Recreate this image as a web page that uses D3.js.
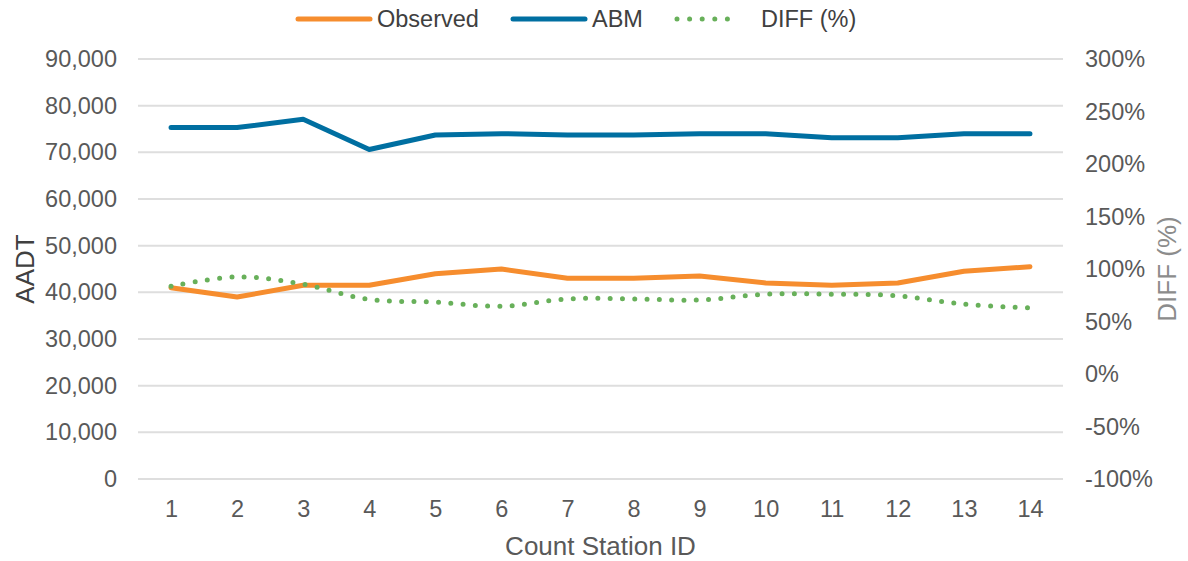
<!DOCTYPE html>
<html><head><meta charset="utf-8">
<script src="https://cdn.jsdelivr.net/npm/d3@7"></script>
<style>body{margin:0;background:#fff;} text{font-family:"Liberation Sans",Arial,sans-serif;}</style>
</head><body><svg id="c" width="1188" height="561"></svg>
<script>
const stations = [1,2,3,4,5,6,7,8,9,10,11,12,13,14];
const observed = [41000,39000,41500,41500,44000,45000,43000,43000,43500,42000,41500,42000,44500,45500];
const abm = [75300,75300,77100,70600,73700,74000,73700,73700,74000,74000,73100,73100,74000,74000];
const diffPct = [83.5,92.5,85.5,71,68.5,64.5,71.5,71.5,70.5,76,76,74.5,66.5,63];
const leftTicks = [0,10000,20000,30000,40000,50000,60000,70000,80000,90000];
const rightTicks = [-100,-50,0,50,100,150,200,250,300];

const svg = d3.select("#c");
const L=138, R=1063, T=59, B=479;
const x = d3.scalePoint().domain(stations).range([L,R]).padding(0.5);
const yL = d3.scaleLinear().domain([0,90000]).range([B,T]);
const yR = d3.scaleLinear().domain([-100,300]).range([B,T]);

// gridlines
svg.append("g").selectAll("line").data(leftTicks).join("line")
  .attr("x1",L).attr("x2",R).attr("y1",d=>yL(d)).attr("y2",d=>yL(d))
  .attr("stroke","#dedede").attr("stroke-width",2);

const fmt = d3.format(",");
const gl = svg.append("g").attr("transform",`translate(${L},0)`)
  .call(d3.axisLeft(yL).tickValues(leftTicks).tickFormat(fmt).tickSize(0).tickPadding(21));
gl.select(".domain").remove();
gl.selectAll("text").attr("font-size","23.5px").attr("fill","#595959").attr("font-family","Liberation Sans, Arial, sans-serif");

const gr = svg.append("g").attr("transform",`translate(${R},0)`)
  .call(d3.axisRight(yR).tickValues(rightTicks).tickFormat(d=>d+"%").tickSize(0).tickPadding(22));
gr.select(".domain").remove();
gr.selectAll("text").attr("font-size","23.5px").attr("fill","#595959").attr("font-family","Liberation Sans, Arial, sans-serif");

const gx = svg.append("g").attr("transform",`translate(0,${B})`)
  .call(d3.axisBottom(x).tickSize(0).tickPadding(21));
gx.select(".domain").remove();
gx.selectAll("text").attr("font-size","23.5px").attr("fill","#595959").attr("font-family","Liberation Sans, Arial, sans-serif");

// axis titles
svg.append("text").attr("x",(L+R)/2).attr("y",555).attr("text-anchor","middle")
  .attr("font-size","26px").attr("fill","#595959").text("Count Station ID");
svg.append("text").attr("transform",`translate(34,${(T+B)/2}) rotate(-90)`).attr("text-anchor","middle")
  .attr("font-size","26px").attr("fill","#404040").text("AADT");
svg.append("text").attr("transform",`translate(1176,${(T+B)/2}) rotate(-90)`).attr("text-anchor","middle")
  .attr("font-size","26px").attr("fill","#8c8c8c").text("DIFF (%)");

// lines
const lineL = d3.line().x((d,i)=>x(stations[i])).y(d=>yL(d));
const lineR = d3.line().x((d,i)=>x(stations[i])).y(d=>yR(d)).curve(d3.curveCatmullRom.alpha(0.5));
svg.append("path").datum(observed).attr("d",lineL).attr("fill","none")
  .attr("stroke","#F68D2E").attr("stroke-width",5).attr("stroke-linecap","round").attr("stroke-linejoin","round");
svg.append("path").datum(abm).attr("d",lineL).attr("fill","none")
  .attr("stroke","#006FA1").attr("stroke-width",5).attr("stroke-linecap","round").attr("stroke-linejoin","round");
svg.append("path").datum(diffPct).attr("d",lineR).attr("fill","none")
  .attr("stroke","#68B05A").attr("stroke-width",5).attr("stroke-linecap","round").attr("stroke-dasharray","0 12.3");

// legend
const leg = [
  {name:"Observed", color:"#F68D2E", x:298, dot:false},
  {name:"ABM", color:"#006FA1", x:513, dot:false},
  {name:"DIFF (%)", color:"#68B05A", x:677, dot:true}
];
const lg = svg.append("g");
leg.forEach(d=>{
  lg.append("line").attr("x1",d.x).attr("x2",d.x+(d.dot?63:72)).attr("y1",19).attr("y2",19)
    .attr("stroke",d.color).attr("stroke-width",5).attr("stroke-linecap","round")
    .attr("stroke-dasharray",d.dot?"0 12.6":null);
  lg.append("text").attr("x",d.x+(d.dot?84:79)).attr("y",27).attr("font-size","23.5px").attr("fill","#404040").text(d.name);
});
</script></body></html>
